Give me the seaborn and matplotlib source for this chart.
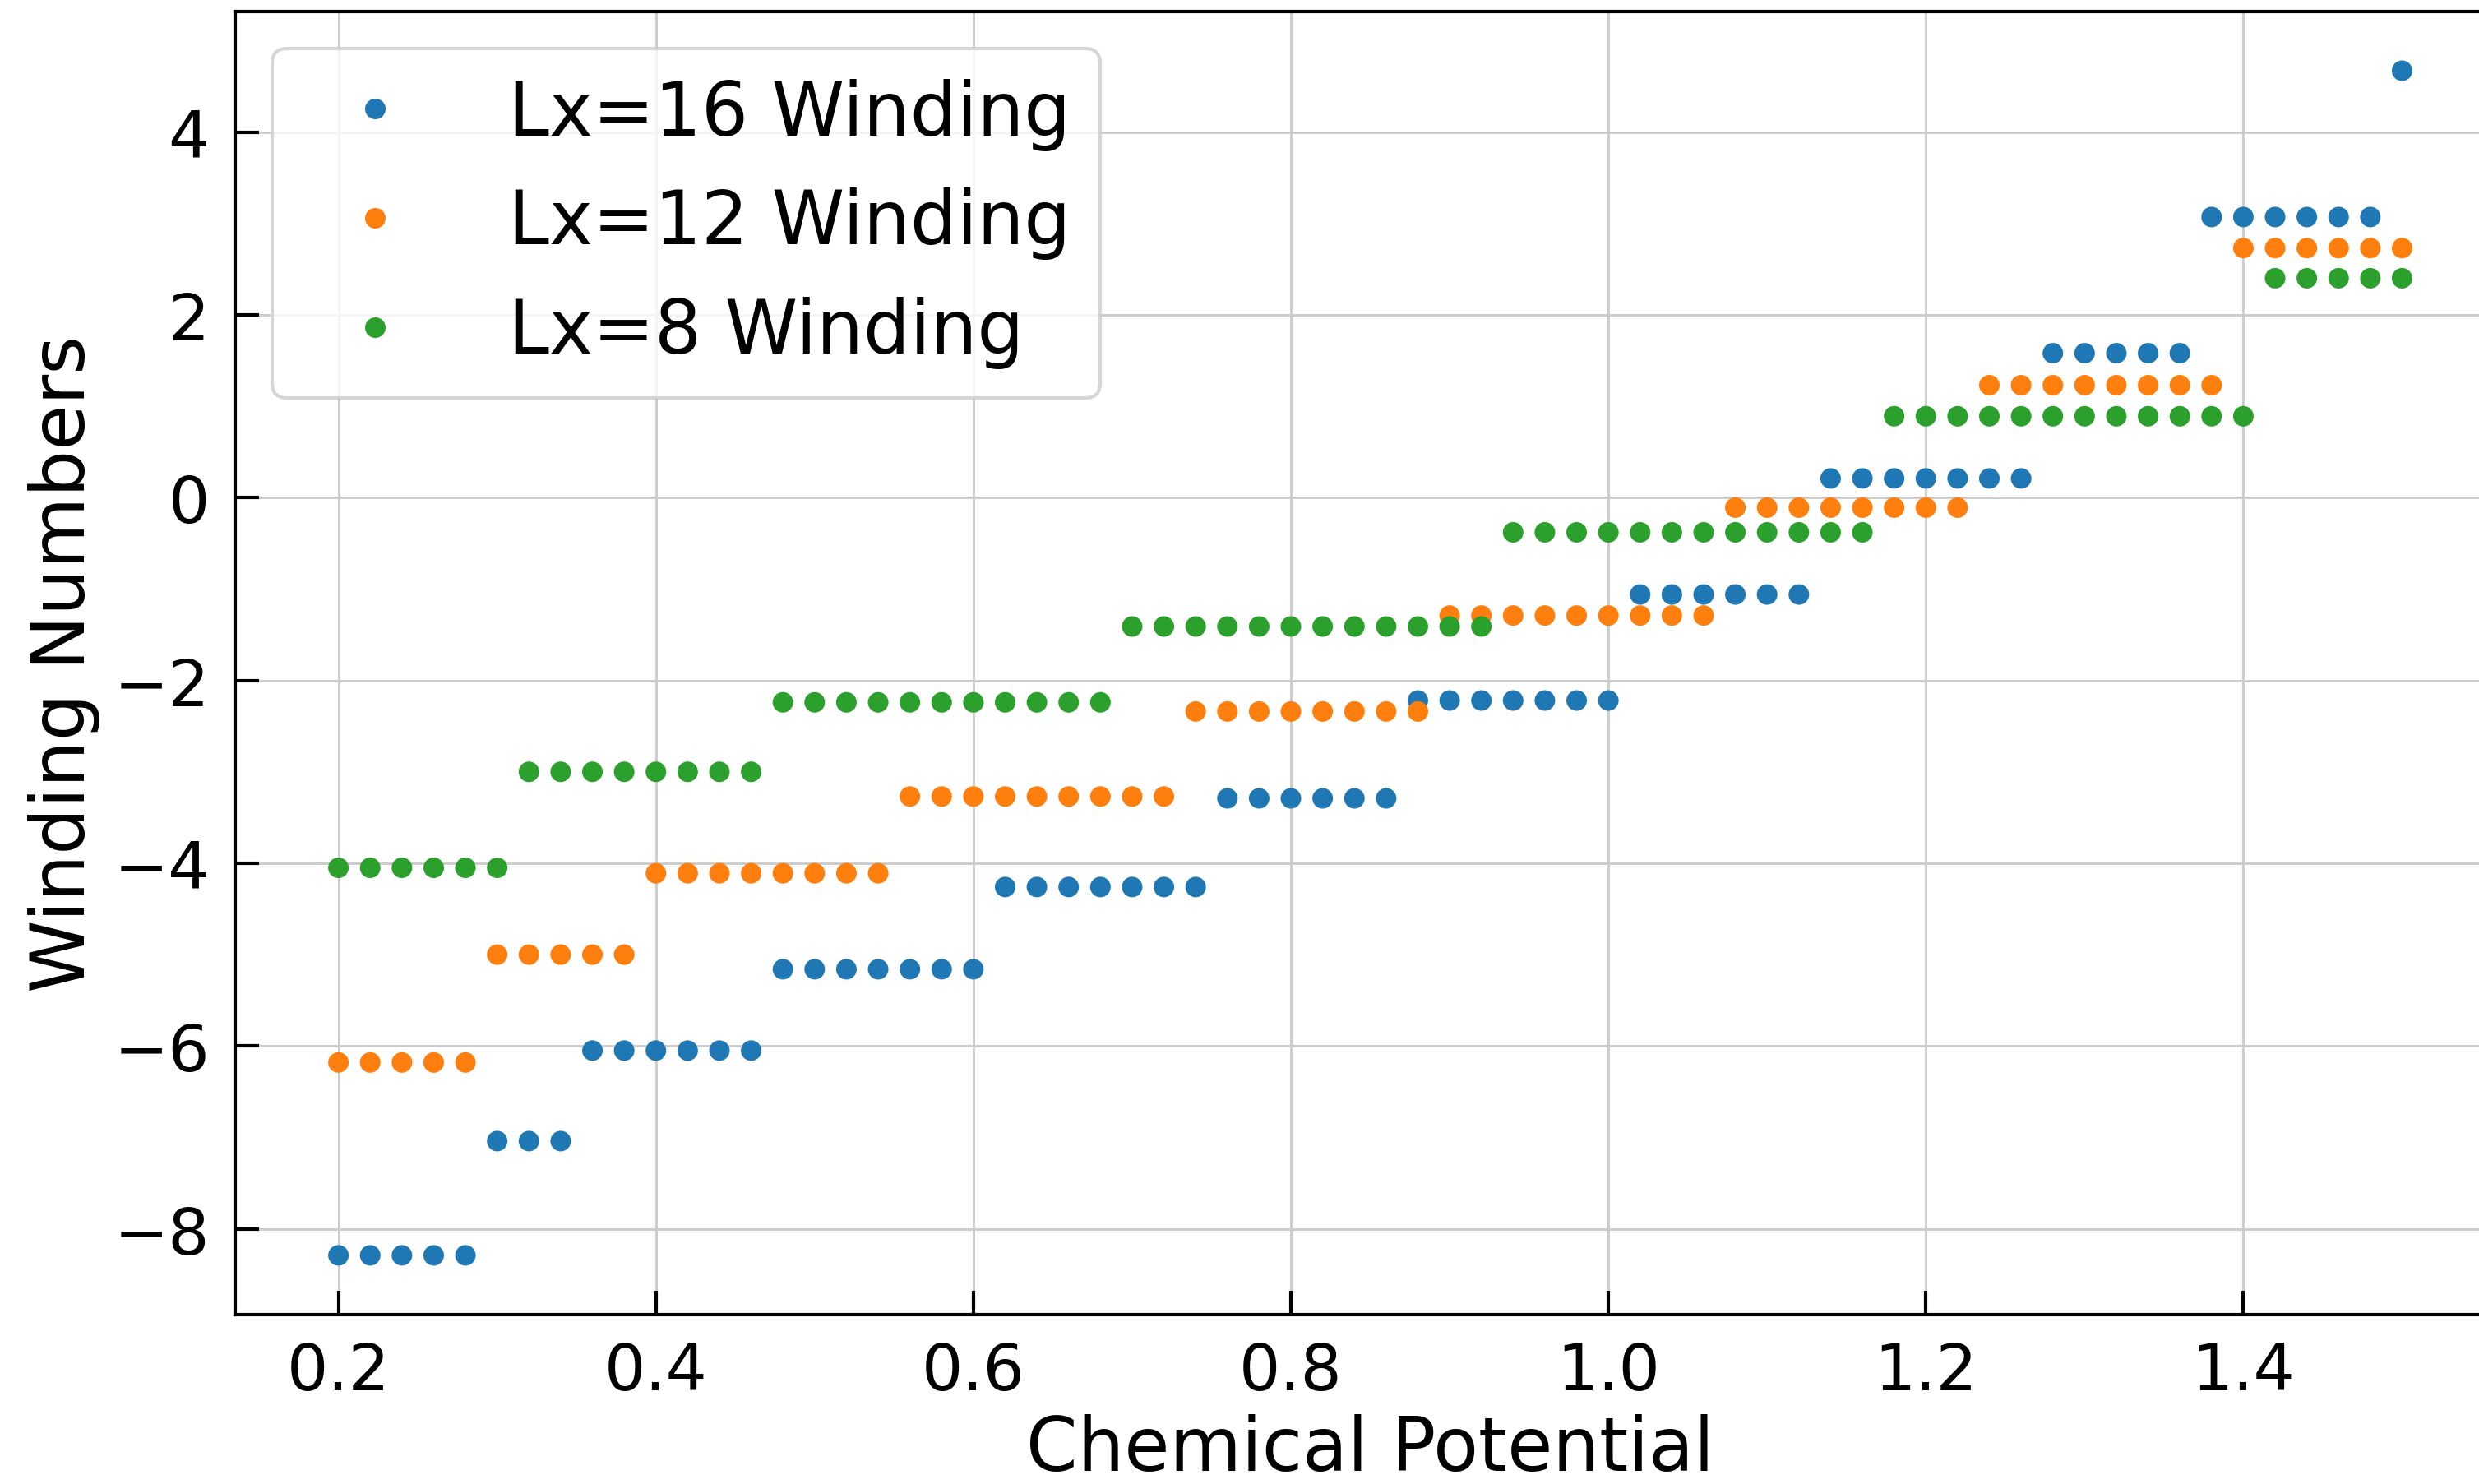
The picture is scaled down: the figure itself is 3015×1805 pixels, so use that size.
import matplotlib
matplotlib.use("Agg")
import numpy as np
import pandas as pd
import matplotlib.pyplot as plt
import seaborn as sns

# chemical potential grid
mu = [0.20, 0.22, 0.24, 0.26, 0.28, 0.30, 0.32, 0.34, 0.36, 0.38,
      0.40, 0.42, 0.44, 0.46, 0.48, 0.50, 0.52, 0.54, 0.56, 0.58,
      0.60, 0.62, 0.64, 0.66, 0.68, 0.70, 0.72, 0.74, 0.76, 0.78,
      0.80, 0.82, 0.84, 0.86, 0.88, 0.90, 0.92, 0.94, 0.96, 0.98,
      1.00, 1.02, 1.04, 1.06, 1.08, 1.10, 1.12, 1.14, 1.16, 1.18,
      1.20, 1.22, 1.24, 1.26, 1.28, 1.30, 1.32, 1.34, 1.36, 1.38,
      1.40, 1.42, 1.44, 1.46, 1.48, 1.50]

# winding numbers per system size
w_lx16 = [-8.29, -8.29, -8.29, -8.29, -8.29,
          -7.04, -7.04, -7.04,
          -6.05, -6.05, -6.05, -6.05, -6.05, -6.05,
          -5.16, -5.16, -5.16, -5.16, -5.16, -5.16, -5.16,
          -4.26, -4.26, -4.26, -4.26, -4.26, -4.26, -4.26,
          -3.29, -3.29, -3.29, -3.29, -3.29, -3.29,
          -2.22, -2.22, -2.22, -2.22, -2.22, -2.22, -2.22,
          -1.06, -1.06, -1.06, -1.06, -1.06, -1.06,
          0.21, 0.21, 0.21, 0.21, 0.21, 0.21, 0.21,
          1.58, 1.58, 1.58, 1.58, 1.58,
          3.07, 3.07, 3.07, 3.07, 3.07, 3.07,
          4.67]

w_lx12 = [-6.18, -6.18, -6.18, -6.18, -6.18,
          -5.00, -5.00, -5.00, -5.00, -5.00,
          -4.11, -4.11, -4.11, -4.11, -4.11, -4.11, -4.11, -4.11,
          -3.27, -3.27, -3.27, -3.27, -3.27, -3.27, -3.27, -3.27, -3.27,
          -2.34, -2.34, -2.34, -2.34, -2.34, -2.34, -2.34, -2.34,
          -1.29, -1.29, -1.29, -1.29, -1.29, -1.29, -1.29, -1.29, -1.29,
          -0.11, -0.11, -0.11, -0.11, -0.11, -0.11, -0.11, -0.11,
          1.23, 1.23, 1.23, 1.23, 1.23, 1.23, 1.23, 1.23,
          2.73, 2.73, 2.73, 2.73, 2.73, 2.73]

w_lx8 = [-4.05, -4.05, -4.05, -4.05, -4.05, -4.05,
         -3.00, -3.00, -3.00, -3.00, -3.00, -3.00, -3.00, -3.00,
         -2.24, -2.24, -2.24, -2.24, -2.24, -2.24, -2.24, -2.24, -2.24, -2.24, -2.24,
         -1.41, -1.41, -1.41, -1.41, -1.41, -1.41, -1.41, -1.41, -1.41, -1.41, -1.41, -1.41,
         -0.38, -0.38, -0.38, -0.38, -0.38, -0.38, -0.38, -0.38, -0.38, -0.38, -0.38, -0.38,
         0.89, 0.89, 0.89, 0.89, 0.89, 0.89, 0.89, 0.89, 0.89, 0.89, 0.89, 0.89,
         2.40, 2.40, 2.40, 2.40, 2.40]

labels = ["Lx=16 Winding", "Lx=12 Winding", "Lx=8 Winding"]

sns.set_style("ticks")
plt.rcParams['font.family'] = ['DejaVu Sans']
plt.rcParams.update({
    'axes.linewidth': 1.0,
    'axes.edgecolor': 'black',
    'text.color': 'black',
    'axes.labelcolor': 'black',
    'xtick.color': 'black',
    'ytick.color': 'black',
})

df = pd.DataFrame({
    'mu': mu * 3,
    'winding': w_lx16 + w_lx12 + w_lx8,
    'series': [labels[0]] * len(mu) + [labels[1]] * len(mu) + [labels[2]] * len(mu),
})

fig = plt.figure(figsize=(10.05, 6.02), dpi=300)
ax = fig.add_axes([0.0949, 0.1141, 0.9157, 0.8776])

palette = sns.color_palette("tab10", 3)
sns.scatterplot(data=df, x='mu', y='winding', hue='series', hue_order=labels,
                palette=palette, s=36, linewidth=0, ax=ax, zorder=3)

ax.grid(True, color='0.8', linewidth=0.7)
ax.set_axisbelow(True)
ax.set_xticks([0.2, 0.4, 0.6, 0.8, 1.0, 1.2, 1.4])
ax.set_yticks([-8, -6, -4, -2, 0, 2, 4])
ax.tick_params(direction='in', length=7, width=1, labelsize=19, pad=7.5)
ax.set_xlabel('Chemical Potential', fontsize=21.5, labelpad=3)
ax.set_ylabel('Winding Numbers', fontsize=21.5)

handles, lbls = ax.get_legend_handles_labels()
ax.legend(handles, lbls, loc='upper left', fontsize=21.5)

fig.savefig('out.png', dpi=300)
